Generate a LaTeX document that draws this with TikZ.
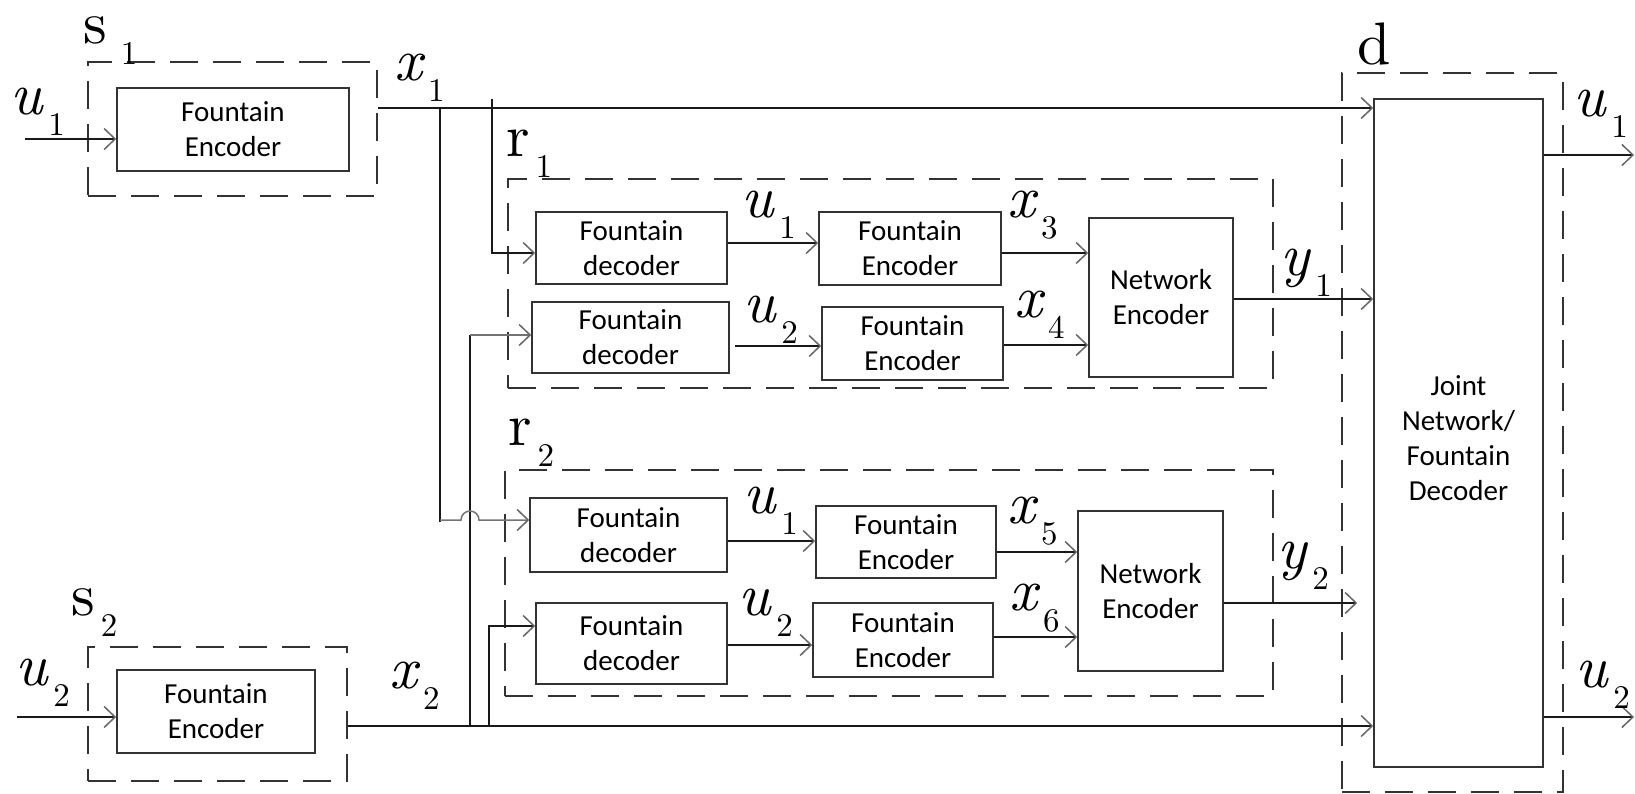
\documentclass[tikz,border=0pt]{standalone}
\usepackage{fontspec}
\newfontfamily\boxfont{Carlito}
\newfontfamily\labfont{lmroman10-regular}[Extension=.otf, ItalicFont=lmroman10-italic]
\usetikzlibrary{arrows.meta,fit}

% big letter with a dropped index
\newcommand{\lbl}[2]{{\fontsize{60}{60}\selectfont #1}\hspace{6pt}\raisebox{-21pt}{\fontsize{33}{33}\selectfont #2}}

\begin{document}
\begin{tikzpicture}[x=1pt,y=-1pt]

	\tikzstyle block=[draw=black!80, line width=1.6pt, inner sep=0pt];
	\tikzstyle blocktext=[align=center, inner sep=0pt, font=\boxfont\fontsize{29}{35}\selectfont];
	\tikzstyle zone=[draw=black!80, line width=1.6pt, dash pattern=on 28pt off 15pt, inner sep=0pt];
	\tikzstyle link=[line width=1.5pt, draw=black!90, -{Straight Barb[length=11pt,width=21pt,color=black!60]}];
	\tikzstyle wire=[line width=1.5pt, draw=black!90];
	\tikzstyle lab=[anchor=base west, inner sep=0pt, font=\labfont];

	\useasboundingbox (0,0) rectangle (1635,794);

	% sources
	\node[zone, fit={(88,62) (377,196)}] (s1) {};
	\node[block, fit={(117,88) (349,171)}, label={[blocktext]center:{Fountain\\Encoder}}] (s1enc) {};
	\node[zone, fit={(88,647) (347,781)}] (s2) {};
	\node[block, fit={(117,670) (315,753)}, label={[blocktext]center:{Fountain\\Encoder}}] (s2enc) {};

	% relay r1
	\node[zone, fit={(508,179) (1273,388)}] (r1) {};
	\node[block, fit={(536,212) (727,284)}, label={[blocktext]center:{Fountain\\decoder}}] (r1dec1) {};
	\node[block, fit={(532,302) (729,373)}, label={[blocktext]center:{Fountain\\decoder}}] (r1dec2) {};
	\node[block, fit={(819,212) (1001,285)}, label={[blocktext]center:{Fountain\\Encoder}}] (r1enc1) {};
	\node[block, fit={(822,307) (1003,380)}, label={[blocktext]center:{Fountain\\Encoder}}] (r1enc2) {};
	\node[block, fit={(1089,218) (1233,377)}, label={[blocktext]center:{Network\\Encoder}}] (r1net) {};

	% relay r2
	\node[zone, fit={(505,470) (1273,696)}] (r2) {};
	\node[block, fit={(530,498) (727,572)}, label={[blocktext]center:{Fountain\\decoder}}] (r2dec1) {};
	\node[block, fit={(536,603) (727,684)}, label={[blocktext]center:{Fountain\\decoder}}] (r2dec2) {};
	\node[block, fit={(816,506) (996,578)}, label={[blocktext]center:{Fountain\\Encoder}}] (r2enc1) {};
	\node[block, fit={(813,603) (993,677)}, label={[blocktext]center:{Fountain\\Encoder}}] (r2enc2) {};
	\node[block, fit={(1078,511) (1223,671)}, label={[blocktext]center:{Network\\Encoder}}] (r2net) {};

	% destination
	\node[zone, fit={(1342,73) (1563,792)}] (d) {};
	\node[block, fit={(1374,99) (1543,767)}, label={[blocktext, yshift=-5pt]center:{Joint\\Network/\\Fountain\\Decoder}}] (jdec) {};

	% free ends
	\coordinate (u1in) at (25,139);
	\coordinate (u2in) at (17,717);
	\coordinate (u1out) at (1634,155);
	\coordinate (u2out) at (1634,717);

	% inputs and source outputs
	\draw[link] (u1in) -- (u1in -| s1enc.west);
	\draw[link] (u2in) -- (u2in -| s2enc.west);
	\draw[link] ([yshift=21pt]s1.east) -- ([yshift=21pt]s1.east -| jdec.west);
	\draw[link] ([yshift=-12pt]s2.east) -- ([yshift=-12pt]s2.east -| jdec.west);

	% taps to the relays
	\draw[link] (492,99) |- (r1dec1.west |- 0,253);
	\draw[wire] (470,726) -- (470,335);
	\draw[link, draw=black!55] (470,335) -- (r1dec2.west |- 0,335);
	\draw[wire] (440,108) -- (440,522);
	\draw[link, draw=black!55] (440,520) -- (461,520) arc[start angle=180, end angle=0, radius=9pt] -- (r2dec1.west |- 0,520);
	\draw[link] (489,726) |- (r2dec2.west |- 0,626);

	% inside r1
	\draw[link] (r1dec1.east |- 0,243) -- (r1enc1.west |- 0,243);
	\draw[link] ([xshift=5pt]r1dec2.east |- 0,346) -- (r1enc2.west |- 0,346);
	\draw[link] (r1enc1.east |- 0,253) -- (r1net.west |- 0,253);
	\draw[link] (r1enc2.east |- 0,345) -- (r1net.west |- 0,345);
	\draw[link] (r1net.east |- 0,299) -- (jdec.west |- 0,299);

	% inside r2
	\draw[link] (r2dec1.east |- 0,541) -- (r2enc1.west |- 0,541);
	\draw[link] (r2dec2.east |- 0,645) -- (r2enc2.west |- 0,645);
	\draw[link] (r2enc1.east |- 0,552) -- (r2net.west |- 0,552);
	\draw[link] (r2enc2.east |- 0,637) -- (r2net.west |- 0,637);
	\draw[link] (r2net.east |- 0,603) -- ([xshift=-16pt]jdec.west |- 0,603);

	% outputs
	\draw[link] (jdec.east |- u1out) -- (u1out);
	\draw[link] (jdec.east |- u2out) -- (u2out);

	% labels
	\node[lab] (ls1) at (83,44) {\lbl{s}{\hspace{8pt}1}};
	\node[lab] (ls2) at (71,615) {\lbl{s}{2}};
	\node[lab] (lr1) at (506,157) {\lbl{r}{1}};
	\node[lab] (lr2) at (508,445) {\lbl{r}{2}};
	\node[lab] (ld) at (1357,65) {\fontsize{60}{60}\selectfont d};
	\node[lab] (lu1in) at (10,115) {\lbl{\itshape u}{1}};
	\node[lab] (lu2in) at (15,685) {\lbl{\itshape u}{2}};
	\node[lab] (lx1) at (394,81) {\lbl{\itshape x}{1}};
	\node[lab] (lx2) at (389,688) {\lbl{\itshape x}{2}};
	\node[lab] (lr1u1) at (741,218) {\lbl{\itshape u}{1}};
	\node[lab] (lr1u2) at (743,322) {\lbl{\itshape u}{2}};
	\node[lab] (lx3) at (1007,218) {\lbl{\itshape x}{3}};
	\node[lab] (lx4) at (1014,317) {\lbl{\itshape x}{4}};
	\node[lab] (ly1) at (1280,276) {\lbl{\itshape y}{1}};
	\node[lab] (lr2u1) at (743,513) {\lbl{\itshape u}{1}};
	\node[lab] (lr2u2) at (738,615) {\lbl{\itshape u}{2}};
	\node[lab] (lx5) at (1007,523) {\lbl{\itshape x}{5}};
	\node[lab] (lx6) at (1009,610) {\lbl{\itshape x}{6}};
	\node[lab] (ly2) at (1277,568) {\lbl{\itshape y}{2}};
	\node[lab] (lu1out) at (1573,117) {\lbl{\itshape u}{1}};
	\node[lab] (lu2out) at (1575,687) {\lbl{\itshape u}{2}};

\end{tikzpicture}
\end{document}
